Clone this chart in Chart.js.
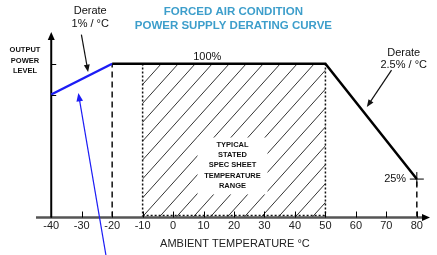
<!DOCTYPE html>
<html>
<head>
<meta charset="utf-8">
<script src="https://cdn.jsdelivr.net/npm/chart.js@4.4.1/dist/chart.umd.min.js"></script>
<style>
  html, body { margin: 0; padding: 0; background: #fff; }
  #wrap { width: 437px; height: 255px; }
</style>
</head>
<body>
<div id="wrap"><canvas id="chart"></canvas></div>
<script>
// derating curve (ambient temp in C, output power in %)
const temps = [-40, -20, 50, 80];
const power = [80, 100, 100, 25];

const tickTemps = [-40, -30, -20, -10, 0, 10, 20, 30, 40, 50, 60, 70, 80];
const powerTicks = [80, 100];

// typical spec sheet range
const specRange = [-10, 50];

const titleLines = ['FORCED AIR CONDITION', 'POWER SUPPLY DERATING CURVE'];
const specText = ['TYPICAL', 'STATED', 'SPEC SHEET', 'TEMPERATURE', 'RANGE'];

const TEAL = '#3d9ecb';
const BLUE = '#1c1cf5';

function arrow(ctx, x1, y1, x2, y2, color, width, head) {
  const a = Math.atan2(y2 - y1, x2 - x1);
  ctx.save();
  ctx.strokeStyle = color;
  ctx.fillStyle = color;
  ctx.lineWidth = width;
  ctx.beginPath();
  ctx.moveTo(x1, y1);
  ctx.lineTo(x2 - Math.cos(a) * head * 0.8, y2 - Math.sin(a) * head * 0.8);
  ctx.stroke();
  ctx.beginPath();
  ctx.moveTo(x2, y2);
  ctx.lineTo(x2 - head * Math.cos(a - 0.38), y2 - head * Math.sin(a - 0.38));
  ctx.lineTo(x2 - head * Math.cos(a + 0.38), y2 - head * Math.sin(a + 0.38));
  ctx.closePath();
  ctx.fill();
  ctx.restore();
}

const background = {
  id: 'background',
  beforeDatasetsDraw(chart) {
    const ctx = chart.ctx;
    const xs = chart.scales.x, ys = chart.scales.y;
    const x0 = xs.getPixelForValue(specRange[0]);
    const x1 = xs.getPixelForValue(specRange[1]);
    const yTop = ys.getPixelForValue(100);
    const yBot = ys.getPixelForValue(0);

    // hatching
    const boxL = xs.getPixelForValue(8), boxR = xs.getPixelForValue(31);
    const boxT = ys.getPixelForValue(52), boxB = ys.getPixelForValue(15);
    ctx.save();
    ctx.beginPath();
    ctx.rect(x0, yTop, x1 - x0, yBot - yTop);
    ctx.clip();
    ctx.strokeStyle = '#333';
    ctx.lineWidth = 1;
    const h = yBot - yTop;
    for (let x = x0 - h; x < x1 + h; x += 17) {
      ctx.beginPath();
      ctx.moveTo(x, yBot);
      ctx.lineTo(x + h * 0.9, yTop);
      ctx.stroke();
    }
    ctx.restore();
    ctx.fillStyle = '#fff';
    ctx.fillRect(boxL, boxT, boxR - boxL, boxB - boxT);

    // dotted edges of the range
    ctx.save();
    ctx.strokeStyle = '#111';
    ctx.lineWidth = 1.5;
    ctx.setLineDash([2, 2]);
    ctx.beginPath();
    ctx.moveTo(x0, yBot); ctx.lineTo(x0, yTop);
    ctx.moveTo(x1, yBot); ctx.lineTo(x1, yTop);
    ctx.moveTo(x0, yBot - 2); ctx.lineTo(x1, yBot - 2);
    ctx.stroke();

    // dashed drop lines
    ctx.setLineDash([6, 4]);
    ctx.beginPath();
    ctx.moveTo(xs.getPixelForValue(temps[1]), yBot);
    ctx.lineTo(xs.getPixelForValue(temps[1]), ys.getPixelForValue(power[1]));
    ctx.moveTo(xs.getPixelForValue(temps[3]), yBot);
    ctx.lineTo(xs.getPixelForValue(temps[3]), ys.getPixelForValue(power[3]));
    ctx.stroke();
    ctx.restore();

    // text in the range
    ctx.save();
    ctx.fillStyle = '#111';
    ctx.font = 'bold 7.5px "Liberation Sans", Arial, sans-serif';
    ctx.textAlign = 'center';
    ctx.textBaseline = 'middle';
    const cx = (boxL + boxR) / 2;
    specText.forEach((t, i) => ctx.fillText(t, cx, ys.getPixelForValue(47.5 - i * 6.8)));
    ctx.restore();

    // axes
    const xa = xs.getPixelForValue(-40);
    ctx.save();
    ctx.strokeStyle = '#555';
    ctx.lineWidth = 2.5;
    ctx.beginPath();
    ctx.moveTo(chart.chartArea.left, yBot);
    ctx.lineTo(chart.chartArea.right - 5, yBot);
    ctx.stroke();
    ctx.fillStyle = '#000';
    ctx.beginPath();
    ctx.moveTo(chart.chartArea.right + 1, yBot);
    ctx.lineTo(chart.chartArea.right - 7, yBot - 3.5);
    ctx.lineTo(chart.chartArea.right - 7, yBot + 3.5);
    ctx.closePath();
    ctx.fill();

    ctx.strokeStyle = '#000';
    ctx.lineWidth = 2;
    ctx.beginPath();
    ctx.moveTo(xa, yBot);
    ctx.lineTo(xa, chart.chartArea.top + 6);
    ctx.stroke();
    ctx.beginPath();
    ctx.moveTo(xa, chart.chartArea.top - 1);
    ctx.lineTo(xa - 3.5, chart.chartArea.top + 7);
    ctx.lineTo(xa + 3.5, chart.chartArea.top + 7);
    ctx.closePath();
    ctx.fill();

    ctx.lineWidth = 1;
    ctx.beginPath();
    tickTemps.forEach(t => {
      const px = Math.round(xs.getPixelForValue(t)) + 0.5;
      ctx.moveTo(px, yBot);
      ctx.lineTo(px, yBot - 6);
    });
    powerTicks.forEach(p => {
      const py = Math.round(ys.getPixelForValue(p)) + 0.5;
      ctx.moveTo(xa, py);
      ctx.lineTo(xa + 5, py);
    });
    ctx.stroke();

    ctx.fillStyle = '#222';
    ctx.font = '11px "Liberation Sans", Arial, sans-serif';
    ctx.textAlign = 'center';
    ctx.textBaseline = 'middle';
    tickTemps.forEach(t => ctx.fillText(String(t), xs.getPixelForValue(t), yBot + 8));
    ctx.fillText('AMBIENT TEMPERATURE \u00B0C', xs.getPixelForValue(20.3), yBot + 26);
    ctx.restore();
  },
  afterDatasetsDraw(chart) {
    const ctx = chart.ctx;
    const xs = chart.scales.x, ys = chart.scales.y;
    const X = v => xs.getPixelForValue(v), Y = v => ys.getPixelForValue(v);

    ctx.save();
    ctx.fillStyle = TEAL;
    ctx.font = 'bold 11.5px "Liberation Sans", Arial, sans-serif';
    ctx.textAlign = 'center';
    ctx.textBaseline = 'middle';
    titleLines.forEach((t, i) => ctx.fillText(t, X(19.8), 12 + i * 14));

    ctx.fillStyle = '#111';
    ctx.font = '11px "Liberation Sans", Arial, sans-serif';
    ctx.fillText('Derate', X(-27.2), 11);
    ctx.fillText('1% / \u00B0C', X(-27.2), 24);
    ctx.fillText('Derate', X(75.7), Y(107));
    ctx.fillText('2.5% / \u00B0C', X(75.7), Y(99.5));
    ctx.fillText('100%', X(11.2), Y(104.5));
    ctx.textAlign = 'right';
    ctx.fillText('25%', X(76.5), Y(25));

    ctx.font = 'bold 7.5px "Liberation Sans", Arial, sans-serif';
    ctx.textAlign = 'center';
    ['OUTPUT', 'POWER', 'LEVEL'].forEach((t, i) => ctx.fillText(t, 25, 50 + i * 10.7));
    ctx.restore();

    arrow(ctx, X(-30.1), Y(119), X(-27.9), Y(94.6), '#111', 1.2, 8);
    arrow(ctx, X(71.7), Y(95.9), X(63.6), Y(71.9), '#111', 1.2, 8);
    arrow(ctx, X(-22.0), Y(-25), X(-31.1), Y(81.0), BLUE, 1.2, 9);
  }
};

new Chart(document.getElementById('chart').getContext('2d'), {
  type: 'line',
  data: {
    datasets: [{
      data: temps.map((t, i) => ({ x: t, y: power[i] })),
      borderWidth: 2.5,
      borderColor: '#000',
      segment: {
        borderColor: c => c.p0DataIndex === 0 ? BLUE : '#000'
      },
      pointStyle: 'cross',
      pointRadius: c => c.dataIndex === 3 ? 7 : 0,
      pointBorderColor: '#000',
      pointBorderWidth: 1,
      tension: 0
    }]
  },
  options: {
    responsive: true,
    maintainAspectRatio: false,
    animation: false,
    clip: false,
    layout: { padding: { left: 36, right: 2, top: 33, bottom: 37.5 } },
    plugins: { legend: { display: false }, tooltip: { enabled: false } },
    scales: {
      x: { type: 'linear', min: -45, max: 84, display: false },
      y: { type: 'linear', min: 0, max: 120, display: false }
    }
  },
  plugins: [background]
});
</script>
</body>
</html>
